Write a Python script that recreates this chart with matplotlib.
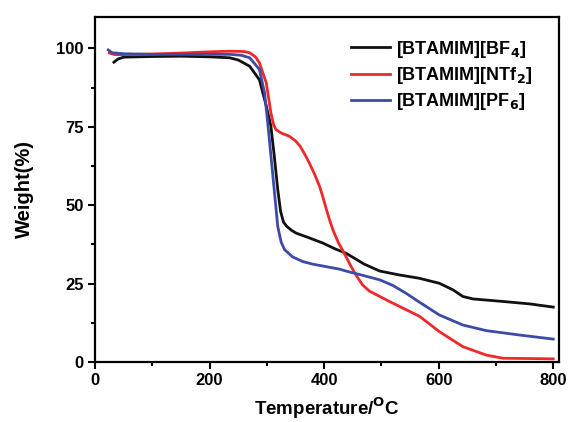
import matplotlib
matplotlib.use("Agg")
import matplotlib.pyplot as plt
from matplotlib.ticker import MultipleLocator

plt.rcParams['font.family'] = ['Liberation Sans', 'DejaVu Sans']
plt.rcParams['font.weight'] = 'bold'
plt.rcParams['mathtext.default'] = 'bf'

labels = ['[BTAMIM][BF$_4$]', '[BTAMIM][NTf$_2$]', '[BTAMIM][PF$_6$]']
colors = ['#111111', '#f0282a', '#3c4aa8']

bf4_t = [33, 40, 50, 100, 150, 200, 235, 250, 270, 287, 299, 307, 313, 319, 324, 329, 335, 343, 351, 375, 398, 420, 438, 470, 497, 530, 566, 601, 625, 642, 660, 712, 760, 800]
bf4_w = [95.6, 96.6, 97.2, 97.4, 97.5, 97.3, 97.0, 96.3, 94.3, 90.0, 81.6, 75.2, 65.6, 55.0, 48.0, 44.6, 43.2, 42.0, 41.1, 39.5, 37.9, 36.0, 34.7, 31.2, 29.0, 27.8, 26.7, 25.1, 23.0, 20.9, 20.1, 19.3, 18.5, 17.5]

ntf2_t = [25, 35, 50, 100, 150, 200, 235, 260, 270, 280, 287, 299, 307, 312, 316, 325, 339, 350, 358, 366, 374, 383, 392, 398, 404, 410, 416, 425, 435, 446, 456, 467, 479, 514, 555, 567, 601, 642, 683, 712, 800]
ntf2_w = [98.5, 98.0, 98.0, 98.2, 98.5, 98.9, 99.1, 99.0, 98.6, 97.3, 95.4, 89.0, 79.5, 75.5, 74.1, 73.0, 72.0, 70.5, 68.8, 66.3, 63.5, 60.0, 56.0, 52.5, 48.6, 45.0, 41.8, 38.0, 34.7, 30.8, 27.6, 24.6, 22.6, 19.3, 15.6, 14.5, 9.7, 4.9, 2.2, 1.2, 1.0]

pf6_t = [23, 30, 50, 100, 200, 235, 255, 270, 287, 296, 301.5, 310, 319, 325, 331, 345, 363, 380, 427, 438, 470, 497, 520, 543, 567, 601, 642, 683, 741, 800]
pf6_w = [99.5, 98.6, 98.3, 98.1, 98.1, 98.1, 97.8, 97.0, 93.3, 85.8, 76.3, 60.3, 43.2, 38.2, 35.8, 33.5, 32.0, 31.2, 29.6, 29.0, 27.5, 26.2, 24.4, 21.9, 19.0, 15.0, 11.8, 10.0, 8.6, 7.3]

fig = plt.figure(figsize=(5.7, 4.22), dpi=100)
ax = fig.add_axes([0.1667, 0.1422, 0.8140, 0.8175])

for t, w, lab, c in zip([bf4_t, ntf2_t, pf6_t], [bf4_w, ntf2_w, pf6_w], labels, colors):
    ax.plot(t, w, color=c, lw=2.0, label=lab, solid_joinstyle='round')

ax.set_xlim(0, 810)
ax.set_ylim(0, 110)
ax.xaxis.set_major_locator(MultipleLocator(200))
ax.xaxis.set_minor_locator(MultipleLocator(100))
ax.yaxis.set_major_locator(MultipleLocator(25))
ax.yaxis.set_minor_locator(MultipleLocator(12.5))
ax.tick_params(which='major', direction='out', length=5, width=1.5, labelsize=12, pad=3)
ax.tick_params(which='minor', direction='out', length=3, width=1.5)
for lab in ax.get_xticklabels() + ax.get_yticklabels():
    lab.set_fontweight('bold')
for s in ax.spines.values():
    s.set_linewidth(1.6)

ax.set_xlabel('Temperature/$^{\\mathbf{O}}$C', fontsize=13.5, fontweight='bold', labelpad=5)
ax.set_ylabel('Weight(%)', fontsize=14.5, fontweight='bold', labelpad=16)

leg = ax.legend(loc='upper right', bbox_to_anchor=(0.985, 0.995), frameon=False, fontsize=13,
                handlelength=2.2, handletextpad=0.3, labelspacing=0.3, borderaxespad=0.7)
for txt in leg.get_texts():
    txt.set_fontweight('bold')

fig.savefig('out.png', dpi=100)
